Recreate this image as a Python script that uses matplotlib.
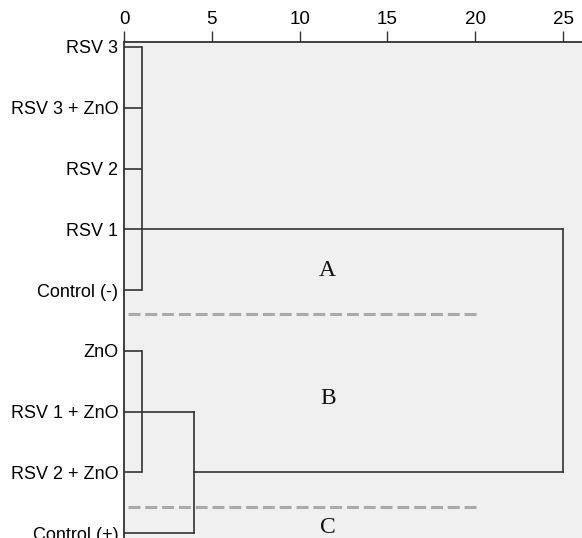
import matplotlib
matplotlib.use("Agg")
import matplotlib.pyplot as plt

# leaves, top to bottom
leaves = ["RSV 3", "RSV 3 + ZnO", "RSV 2", "RSV 1", "Control (-)",
          "ZnO", "RSV 1 + ZnO", "RSV 2 + ZnO", "Control (+)"]

# merges: (member rows, height, row the joined cluster continues from)
cluster_a = [0, 1, 2, 3, 4]
cluster_b = [5, 6, 7]
height_ab = 1.0
height_c = 4.0
height_top = 25.0
row_a = 3
row_b = 6
row_bc = 7

group_names = ["A", "B", "C"]
group_rows = [3.67, 5.78, 7.9]
separator_rows = [4.40, 7.57]

line_col = "#333333"
lw = 1.2

fig = plt.figure(figsize=(5.82, 5.38), dpi=100)
ax = fig.add_axes([124 / 582, 0, 458 / 582, 496 / 538])
ax.set_facecolor("#f0f0f0")

# cluster A and B at height 1
for members in (cluster_a, cluster_b):
    for r in members:
        ax.plot([0, height_ab], [r, r], color=line_col, lw=lw, solid_capstyle="butt")
    ax.plot([height_ab, height_ab], [members[0], members[-1]], color=line_col, lw=lw)

# B joins Control (+)
ax.plot([height_ab, height_c], [row_b, row_b], color=line_col, lw=lw)
ax.plot([0, height_c], [8, 8], color=line_col, lw=lw)
ax.plot([height_c, height_c], [row_b, 8], color=line_col, lw=lw)

# final merge
ax.plot([height_ab, height_top], [row_a, row_a], color=line_col, lw=lw)
ax.plot([height_c, height_top], [row_bc, row_bc], color=line_col, lw=lw)
ax.plot([height_top, height_top], [row_a, row_bc], color=line_col, lw=lw)

# group separators and names
for r in separator_rows:
    ax.plot([0.2, 20.2], [r, r], color="#aaaaaa", lw=2.2, ls=(0, (3.9, 1.6)))
for name, r in zip(group_names, group_rows):
    ax.text(11.6, r, name, ha="center", va="center", fontsize=17,
            family="Liberation Serif", color="#111111")

ax.set_xlim(0, 458 / 17.56)
ax.set_ylim(8.08, -0.082)

ax.xaxis.tick_top()
ax.set_xticks([0, 5, 10, 15, 20, 25])
ax.tick_params(axis="x", direction="out", length=8, width=1, color=line_col,
               labelsize=13.5, pad=2)
ax.set_yticks(range(len(leaves)))
ax.set_yticklabels(leaves)
ax.tick_params(axis="y", length=0, labelsize=13, pad=4)
for lab in ax.get_xticklabels() + ax.get_yticklabels():
    lab.set_family("Liberation Sans")

for s in ["right", "bottom"]:
    ax.spines[s].set_visible(False)
for s in ["left", "top"]:
    ax.spines[s].set_color(line_col)
    ax.spines[s].set_linewidth(1.3)

fig.savefig("out.png", dpi=100)
